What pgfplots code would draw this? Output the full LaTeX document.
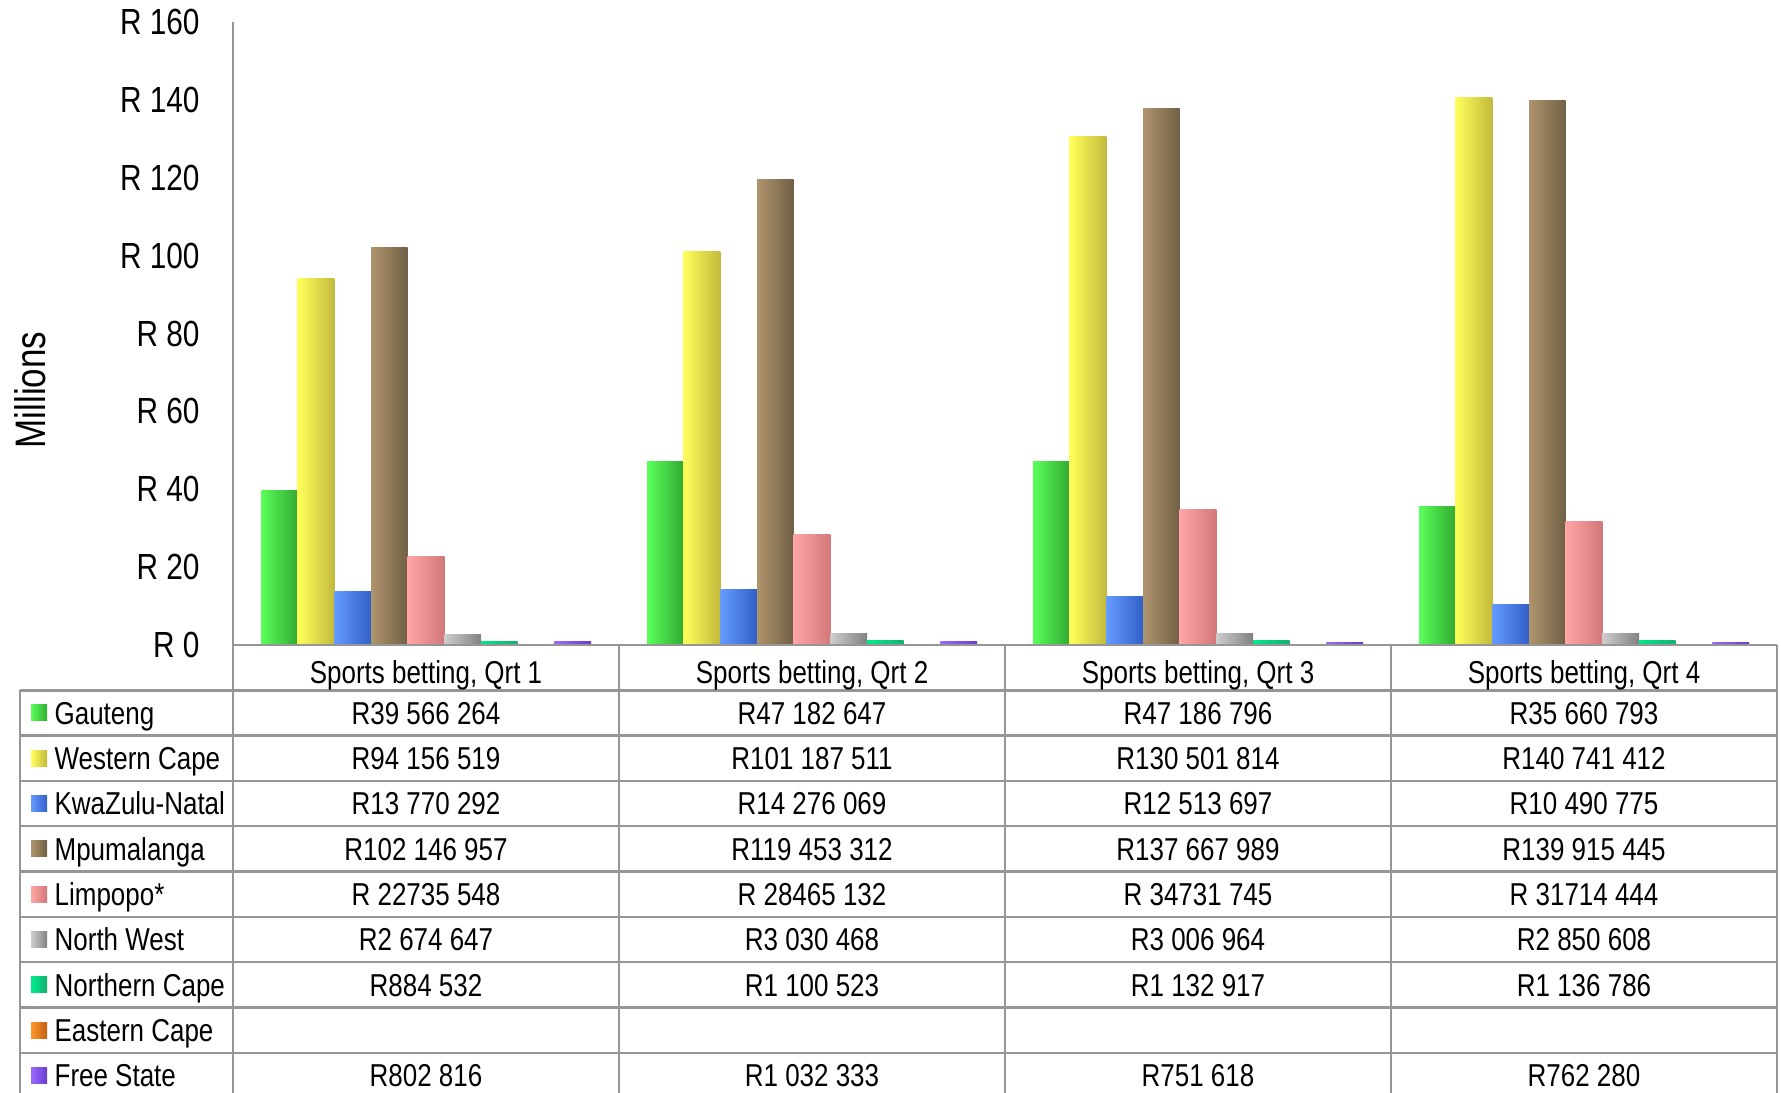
\documentclass[border=0pt]{standalone}
\usepackage{pgfplots}
\pgfplotsset{compat=1.18}
\usepackage{pgfplotstable}
\usepackage{fontspec}
\setmainfont{Liberation Sans}[FakeStretch=0.82]

% gradient colours, left / right edge of each bar
\definecolor{gaL}{RGB}{90,255,90}   \definecolor{gaR}{RGB}{50,170,50}
\definecolor{wcL}{RGB}{255,255,90}  \definecolor{wcR}{RGB}{195,185,60}
\definecolor{kzL}{RGB}{100,155,255} \definecolor{kzR}{RGB}{50,95,200}
\definecolor{mpL}{RGB}{175,148,108} \definecolor{mpR}{RGB}{112,96,70}
\definecolor{liL}{RGB}{255,165,165} \definecolor{liR}{RGB}{210,120,120}
\definecolor{nwL}{RGB}{205,205,205} \definecolor{nwR}{RGB}{130,130,130}
\definecolor{ncL}{RGB}{0,235,140}   \definecolor{ncR}{RGB}{20,175,110}
\definecolor{ecL}{RGB}{255,150,40}  \definecolor{ecR}{RGB}{195,95,20}
\definecolor{fsL}{RGB}{155,105,255} \definecolor{fsR}{RGB}{105,60,205}
\definecolor{tline}{RGB}{150,150,150}

% values in millions of rand, one row per quarter
\pgfplotstableread{
x ga wc kz mp li nw nc fs
0 39.566264 94.156519 13.770292 102.146957 22.735548 2.674647 0.884532 0.802816
1 47.182647 101.187511 14.276069 119.453312 28.465132 3.030468 1.100523 1.032333
2 47.186796 130.501814 12.513697 137.667989 34.731745 3.006964 1.132917 0.751618
3 35.660793 140.741412 10.490775 139.915445 31.714444 2.850608 1.136786 0.762280
}\sportsdata

% one table row: index, colour prefix, label, four quarter values
\newcommand{\trow}[7]{%
  \pgfmathsetmacro\yc{667.65+45.3*#1}
  \shade[left color=#2L, right color=#2R] (31,\yc-8) rectangle (47,\yc+8);
  \node[anchor=base west, inner sep=0pt] at (54,\yc+11.3) {#3};
  \node[anchor=base] at (426,\yc+11.3) {#4};
  \node[anchor=base] at (812,\yc+11.3) {#5};
  \node[anchor=base] at (1198,\yc+11.3) {#6};
  \node[anchor=base] at (1584,\yc+11.3) {#7};
}

% one bar per quarter so that each bar gets its own gradient
\pgfplotsset{qbar/.style n args={4}{draw=none, left color=#1L, right color=#1R,
    bar shift=#2, x filter/.expression={abs(x-#3)<0.25 ? x : nan}}}

\begin{document}
\begin{tikzpicture}
\path[use as bounding box] (0,0) rectangle (534.3pt,-327.6pt);

\begin{axis}[
    at={(69.9pt,-193.5pt)}, anchor=south west,
    scale only axis,
    width=463.2pt, height=186.9pt,
    xmin=-0.5, xmax=3.5,
    ymin=0, ymax=160,
    axis x line=none,
    axis y line*=left,
    axis line style={-},
    y axis line style={draw=tline, line width=0.7pt},
    ytick={0,20,...,160},
    yticklabels={R 0,R 20,R 40,R 60,R 80,R 100,R 120,R 140,R 160},
    major tick length=0pt,
    yticklabel style={font=\fontsize{10.9}{12}\selectfont, xshift=-6.5pt},
    ybar, bar width=11pt,
    clip=false,
]
\pgfplotsinvokeforeach{0,1,2,3}{
  \addplot[qbar={ga}{-44pt}{#1}{}] table[x=x, y=ga] {\sportsdata};
  \addplot[qbar={wc}{-33pt}{#1}{}] table[x=x, y=wc] {\sportsdata};
  \addplot[qbar={kz}{-22pt}{#1}{}] table[x=x, y=kz] {\sportsdata};
  \addplot[qbar={mp}{-11pt}{#1}{}] table[x=x, y=mp] {\sportsdata};
  \addplot[qbar={li}{0pt}{#1}{}] table[x=x, y=li] {\sportsdata};
  \addplot[qbar={nw}{11pt}{#1}{}] table[x=x, y=nw] {\sportsdata};
  \addplot[qbar={nc}{22pt}{#1}{}] table[x=x, y=nc] {\sportsdata};
  % Eastern Cape has no values: its slot at 33pt stays empty
  \addplot[qbar={fs}{44pt}{#1}{}] table[x=x, y=fs] {\sportsdata};
}
\end{axis}

\node[rotate=90, font=\fontsize{12.8}{14}\selectfont] at (9pt,-117pt) {Millions};

% data table under the plot (coordinates in reference pixels)
\begin{scope}[x=0.3pt, y=-0.3pt, every node/.style={font=\fontsize{9.5}{11}\selectfont}]
  \draw[tline, line width=0.7pt] (233,645) -- (1777,645);
  \foreach \k in {1,...,9}
    \draw[tline, line width=0.7pt] (20,{645+45.3*\k}) -- (1777,{645+45.3*\k});
  \foreach \x in {233,619,1005,1391,1777}
    \draw[tline, line width=0.7pt] (\x,645) -- (\x,1100);
  \draw[tline, line width=0.7pt] (20,690.3) -- (20,1100);

  \foreach \q/\x in {1/426,2/812,3/1198,4/1584}
    \node[anchor=base] at (\x,683) {Sports betting, Qrt \q};

  \trow{1}{ga}{Gauteng}{R39 566 264}{R47 182 647}{R47 186 796}{R35 660 793}
  \trow{2}{wc}{Western Cape}{R94 156 519}{R101 187 511}{R130 501 814}{R140 741 412}
  \trow{3}{kz}{KwaZulu-Natal}{R13 770 292}{R14 276 069}{R12 513 697}{R10 490 775}
  \trow{4}{mp}{Mpumalanga}{R102 146 957}{R119 453 312}{R137 667 989}{R139 915 445}
  \trow{5}{li}{Limpopo*}{R 22735 548}{R 28465 132}{R 34731 745}{R 31714 444}
  \trow{6}{nw}{North West}{R2 674 647}{R3 030 468}{R3 006 964}{R2 850 608}
  \trow{7}{nc}{Northern Cape}{R884 532}{R1 100 523}{R1 132 917}{R1 136 786}
  \trow{8}{ec}{Eastern Cape}{}{}{}{}
  \trow{9}{fs}{Free State}{R802 816}{R1 032 333}{R751 618}{R762 280}
\end{scope}
\end{tikzpicture}
\end{document}
